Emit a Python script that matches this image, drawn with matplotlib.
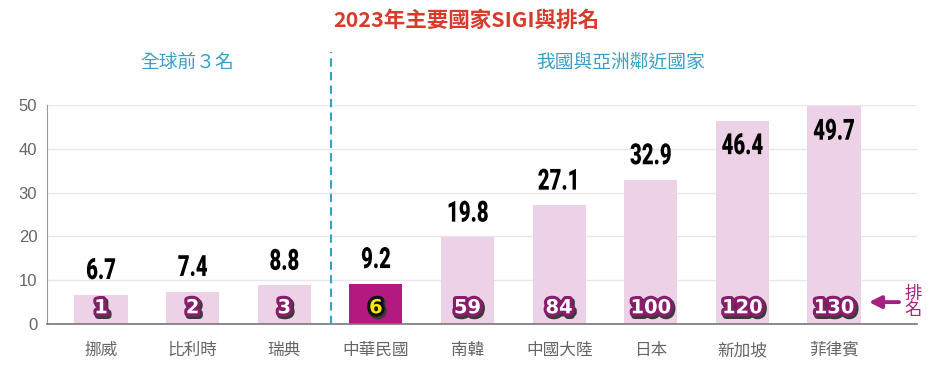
import matplotlib
matplotlib.use("Agg")
import matplotlib.pyplot as plt
import matplotlib.patheffects as pe
from matplotlib.transforms import Affine2D

plt.rcParams["font.family"] = ["Noto Sans CJK TC", "DejaVu Sans"]

countries = ["挪威", "比利時", "瑞典", "中華民國", "南韓", "中國大陸", "日本", "新加坡", "菲律賓"]
sigi = [6.7, 7.4, 8.8, 9.2, 19.8, 27.1, 32.9, 46.4, 49.7]
ranks = [1, 2, 3, 6, 59, 84, 100, 120, 130]
highlight = "中華民國"

LIGHT = "#EDD1E7"
DARK = "#B3197F"
PURPLE = "#A3217F"
BLUE = "#3A9FC6"
RED = "#D93A2B"
GRAY = "#666666"


class Squeeze(pe.AbstractPathEffect):
    """Narrow the glyphs horizontally about their own centre (condensed look)."""

    def __init__(self, sx=0.75):
        super().__init__()
        self.sx = sx

    def draw_path(self, renderer, gc, tpath, affine, rgbFace=None):
        ext = tpath.get_extents()
        cx = (ext.x0 + ext.x1) / 2
        squeeze = Affine2D().translate(-cx, 0).scale(self.sx, 1).translate(cx, 0)
        renderer.draw_path(gc, tpath, squeeze + affine, rgbFace)


fig = plt.figure(figsize=(9.41, 3.70), dpi=100)
ax = fig.add_axes([47 / 941, 1 - 324 / 370, (917 - 47) / 941, (324 - 105) / 370])

x = list(range(len(countries)))
colors = [DARK if c == highlight else LIGHT for c in countries]
ax.bar(x, sigi, width=0.58, color=colors, zorder=2)

ax.set_xlim(-0.59, len(countries) - 1 + 0.906)
ax.set_ylim(0, 50)
ax.set_yticks([0, 10, 20, 30, 40, 50])
ax.yaxis.grid(True, color="#E8E8E8", linewidth=1, zorder=0)
ax.set_axisbelow(True)
for s in ["top", "right"]:
    ax.spines[s].set_visible(False)
ax.spines["left"].set_color("#999999")
ax.spines["bottom"].set_color("#777777")
ax.spines["bottom"].set_linewidth(1.2)
ax.tick_params(axis="y", length=0, labelsize=12, labelcolor=GRAY, pad=7)
ax.tick_params(axis="x", length=0, labelsize=12, labelcolor=GRAY, pad=13)
ax.set_xticks(x)
ax.set_xticklabels(countries)
for lab in ax.get_yticklabels():
    lab.set_family(["Liberation Sans", "DejaVu Sans"])

# value labels: above the bar, or tucked inside the top of the tallest ones
for xi, v in zip(x, sigi):
    if v > 40:
        y, va = v - 2.6, "top"
    else:
        y, va = v + 2.2, "bottom"
    ax.text(xi, y, f"{v:.1f}", ha="center", va=va, fontsize=21,
            fontweight="black", family=["Roboto", "DejaVu Sans"],
            color="black", zorder=4, path_effects=[Squeeze(0.7)])

# rank labels
for xi, r, c in zip(x, ranks, countries):
    if c == highlight:
        fc, ec = "#FFE600", "#111111"
    else:
        fc, ec = "white", "#8A1C6C"
    ax.text(xi, 3.7, str(r), ha="center", va="center", fontsize=14,
            fontweight="bold", family=["DejaVu Sans"], color=fc, zorder=5,
            path_effects=[pe.Stroke(linewidth=5, foreground="#3a3a3a", offset=(1.2, -1.6)),
                          pe.Stroke(linewidth=4.5, foreground=ec), pe.Normal()])

# divider between groups
ax.plot([2.51, 2.51], [0, 62], color=BLUE, linestyle=(0, (4, 2.5)), linewidth=1.5,
        clip_on=False, zorder=3)

# arrow and rank note
ax.annotate("", xy=(8.35, 5.0), xytext=(8.74, 5.0),
            arrowprops=dict(arrowstyle="-|>", color=PURPLE, lw=2.8, mutation_scale=18),
            annotation_clip=False)
ax.text(8.86, 5.0, "排\n名", ha="center", va="center", fontsize=12.5, color=PURPLE,
        linespacing=0.9, clip_on=False)

fig.text(466 / 941, 1 - 20 / 370, "2023年主要國家SIGI與排名", ha="center", va="center",
         fontsize=15.5, fontweight="bold", color=RED)
fig.text(187 / 941, 1 - 62 / 370, "全球前３名", ha="center", va="center",
         fontsize=13.5, color=BLUE)
fig.text(621 / 941, 1 - 62 / 370, "我國與亞洲鄰近國家", ha="center", va="center",
         fontsize=13.5, color=BLUE)

fig.savefig("out.png", dpi=100)
